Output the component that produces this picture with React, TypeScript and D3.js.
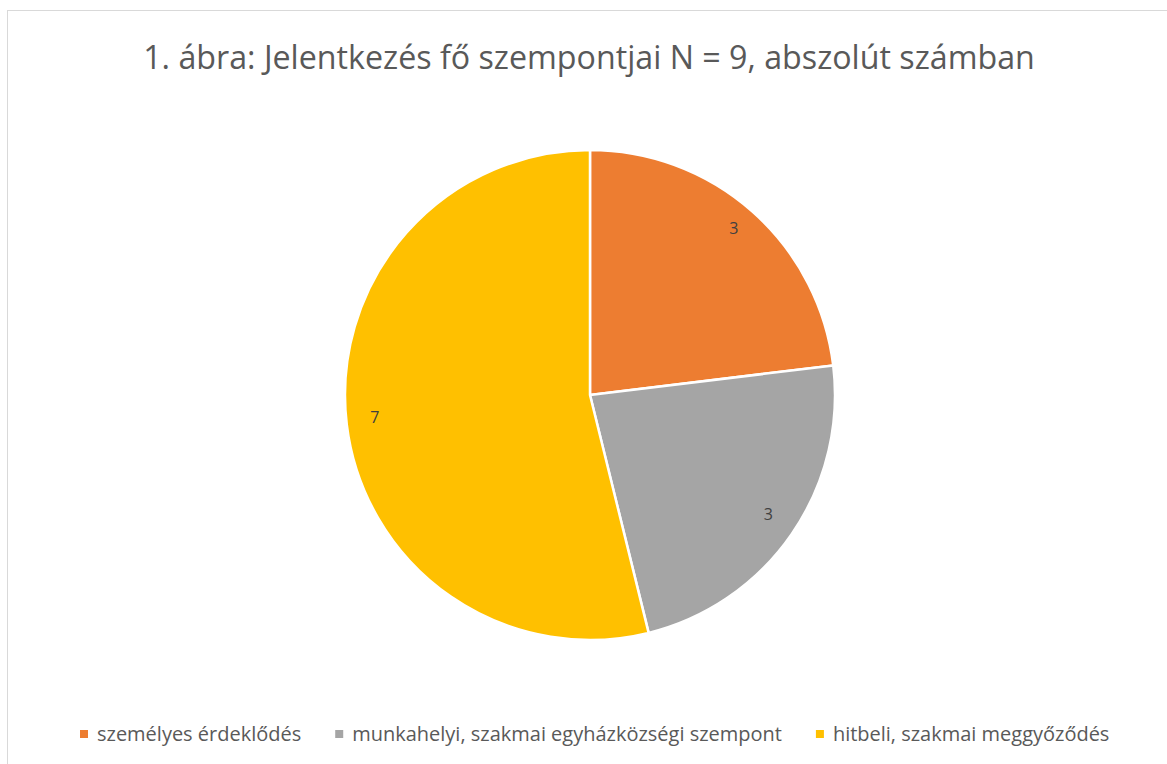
import React, { useEffect, useRef } from 'react';
import * as d3 from 'd3';

const categories = ['személyes érdeklődés', 'munkahelyi, szakmai egyházközségi szempont', 'hitbeli, szakmai meggyőződés'];
const values = [3, 3, 7];
const colors = ['#ED7D31', '#A5A5A5', '#FFC000'];
const title = '1. ábra: Jelentkezés fő szempontjai N = 9, abszolút számban';

const W = 1167;
const H = 764;

const App: React.FC = () => {
  const svgRef = useRef<SVGSVGElement>(null);

  useEffect(() => {
    if (!svgRef.current) return;
    const svg = d3.select(svgRef.current);
    svg.selectAll('*').remove();

    const font = '"Open Sans", "Noto Sans", sans-serif';
    const textColor = '#595959';

    // chart area border
    svg
      .append('rect')
      .attr('x', 7.5)
      .attr('y', 10.5)
      .attr('width', W + 20)
      .attr('height', H + 20)
      .attr('fill', '#fff')
      .attr('stroke', '#D9D9D9')
      .attr('stroke-width', 1);

    // Title, scaled to span the same width as the original
    const titleText = svg
      .append('text')
      .attr('x', 589)
      .attr('y', 69)
      .attr('text-anchor', 'middle')
      .style('font-family', font)
      .style('font-size', '30px')
      .style('fill', textColor)
      .text(title);
    const tw = (titleText.node() as SVGTextElement).getComputedTextLength();
    titleText.style('font-size', `${(30 * 892) / tw}px`);

    // Pie
    const cx = 590;
    const cy = 395;
    const radius = 245;
    const g = svg.append('g').attr('transform', `translate(${cx},${cy})`);

    const pie = d3.pie<number>().sort(null).value((d) => d);
    const arcs = pie(values);
    const arc = d3.arc<d3.PieArcDatum<number>>().innerRadius(0).outerRadius(radius);
    const labelArc = d3
      .arc<d3.PieArcDatum<number>>()
      .innerRadius(radius * 0.885)
      .outerRadius(radius * 0.885);

    g.selectAll('path.slice')
      .data(arcs)
      .enter()
      .append('path')
      .attr('class', 'slice')
      .attr('d', arc)
      .attr('fill', (_d, i) => colors[i])
      .attr('stroke', '#fff')
      .attr('stroke-width', 2.5)
      .attr('stroke-linejoin', 'round');

    g.selectAll('text.lbl')
      .data(arcs)
      .enter()
      .append('text')
      .attr('class', 'lbl')
      .attr('x', (d) => labelArc.centroid(d)[0])
      .attr('y', (d) => labelArc.centroid(d)[1])
      .attr('dy', '0.1em')
      .attr('text-anchor', 'middle')
      .style('font-family', font)
      .style('font-size', '16px')
      .style('fill', '#404040')
      .text((d) => d.data);

    // Legend
    const legend = svg.append('g');
    const fs = 17;
    const items = categories.map((c, i) => {
      const t = legend
        .append('text')
        .attr('y', 741)
        .style('font-family', font)
        .style('font-size', `${fs}px`)
        .style('fill', textColor)
        .text(c);
      return { t, i, w: (t.node() as SVGTextElement).getComputedTextLength() };
    });
    const sq = 8;
    const gapSq = 9;
    const gapItem = 34;
    const fixed = items.length * (sq + gapSq) + gapItem * (items.length - 1);
    const sumW = items.reduce((s, it) => s + it.w, 0);
    const target = 1110 - 80;
    const k = (target - fixed) / sumW;
    let x = 80;
    items.forEach((it) => {
      it.t.style('font-size', `${fs * k}px`);
      const w = (it.t.node() as SVGTextElement).getComputedTextLength();
      legend
        .append('rect')
        .attr('x', x)
        .attr('y', 730)
        .attr('width', sq)
        .attr('height', sq)
        .attr('fill', colors[it.i]);
      it.t.attr('x', x + sq + gapSq);
      x += sq + gapSq + w + gapItem;
    });
  }, []);

  return (
    <svg
      ref={svgRef}
      width={W}
      height={H}
      style={{ position: 'absolute', left: 0, top: 0, background: '#fff' }}
    />
  );
};

export default App;
